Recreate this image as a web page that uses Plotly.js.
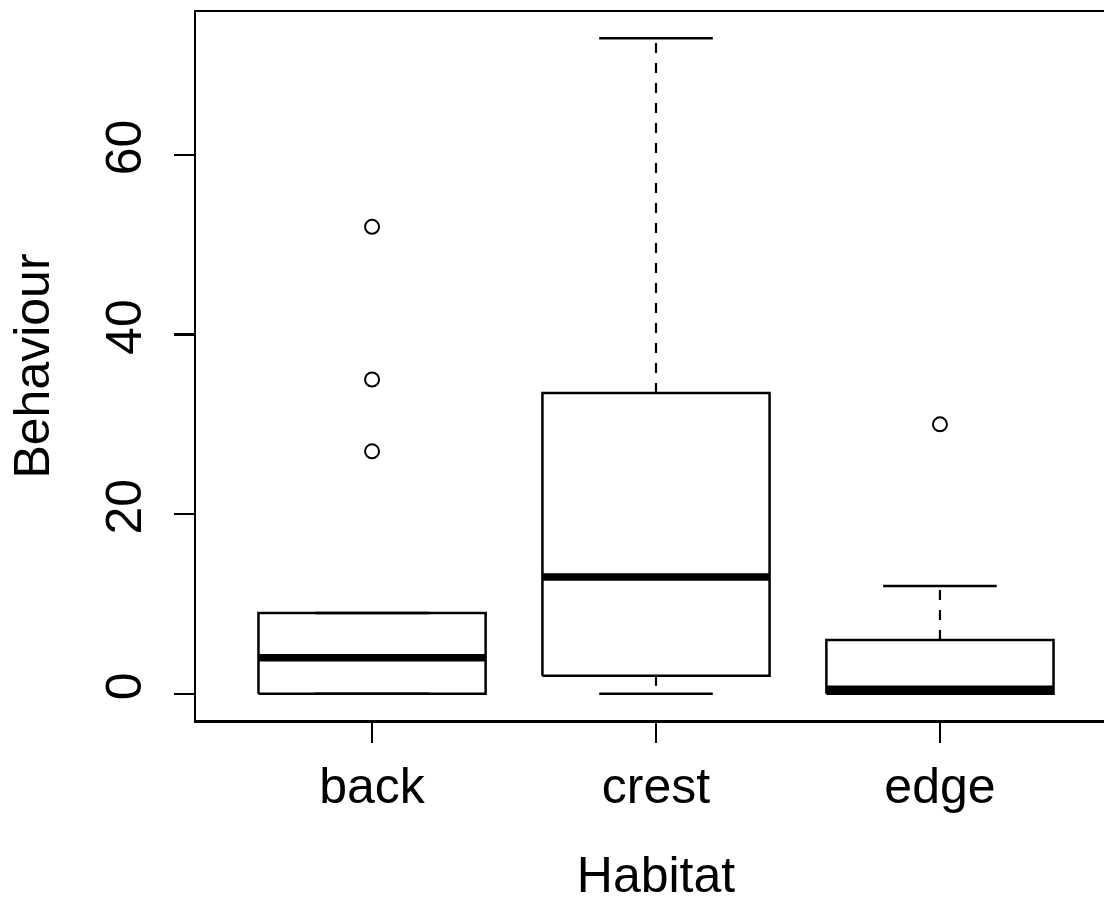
<!DOCTYPE html>
<html>
<head>
<meta charset="utf-8">
<script src="https://cdn.plot.ly/plotly-3.0.1.min.js"></script>
<style>
html,body{margin:0;padding:0;overflow:hidden;background:#fff;}
#chart{width:1120px;height:903px;}
</style>
</head>
<body>
<div id="chart"></div>
<script>
// Data
var categories = ['back', 'crest', 'edge'];
var lowerWhisker = [0, 0, 0];
var q1 = [0, 2, 0];
var median = [4, 13, 0.5];
var q3 = [9, 33.5, 6];
var upperWhisker = [9, 73, 12];
var outlierCategory = ['back', 'back', 'back', 'edge'];
var outlierValue = [52, 35, 27, 30];
var yTickValues = [0, 20, 40, 60];

var boxHalf = 0.4, capHalf = 0.2;
var pos = categories.map(function (c, i) { return i + 1; });

var boxX = [], boxY = [], medX = [], medY = [], whX = [], whY = [], capX = [], capY = [];
categories.forEach(function (c, i) {
  var p = pos[i];
  boxX.push(p - boxHalf, p + boxHalf, p + boxHalf, p - boxHalf, p - boxHalf, null);
  boxY.push(q1[i], q1[i], q3[i], q3[i], q1[i], null);
  medX.push(p - boxHalf, p + boxHalf, null);
  medY.push(median[i], median[i], null);
  if (upperWhisker[i] > q3[i]) { whX.push(p, p, null); whY.push(q3[i], upperWhisker[i], null); }
  if (lowerWhisker[i] < q1[i]) { whX.push(p, p, null); whY.push(q1[i], lowerWhisker[i], null); }
  capX.push(p - capHalf, p + capHalf, null); capY.push(upperWhisker[i], upperWhisker[i], null);
  capX.push(p - capHalf, p + capHalf, null); capY.push(lowerWhisker[i], lowerWhisker[i], null);
});
var outX = outlierCategory.map(function (c) { return categories.indexOf(c) + 1; });

var traces = [
  {x: whX, y: whY, mode: 'lines', line: {color: '#000', width: 2.2, dash: '10px,10px'}, hoverinfo: 'skip'},
  {x: capX, y: capY, mode: 'lines', line: {color: '#000', width: 2.5}, hoverinfo: 'skip'},
  {x: boxX, y: boxY, mode: 'lines', line: {color: '#000', width: 2.5}, hoverinfo: 'skip'},
  {x: medX, y: medY, mode: 'lines', line: {color: '#000', width: 7.5}, hoverinfo: 'skip'},
  {x: outX, y: outlierValue, mode: 'markers', marker: {symbol: 'circle-open', size: 14, color: '#000', line: {width: 2, color: '#000'}}}
];

var font = 'Liberation Sans, Arial, sans-serif';
var fs = 50;
var layout = {
  width: 1120, height: 903,
  margin: {l: 196, r: 4, t: 12, b: 183},
  paper_bgcolor: '#fff', plot_bgcolor: '#fff',
  showlegend: false,
  font: {family: font, color: '#000', size: fs},
  xaxis: {
    range: [0.38, 3.62], tickmode: 'array', tickvals: pos, ticktext: categories,
    showgrid: false, zeroline: false, showline: true, mirror: true,
    linecolor: '#000', linewidth: 2.5, ticks: 'outside', ticklen: 20, tickwidth: 2.5, tickcolor: '#000',
    ticklabelstandoff: 0,
    tickfont: {family: font, size: fs, color: '#000'},
    title: {text: 'Habitat', font: {family: font, size: fs, color: '#000'}, standoff: 56},
    automargin: false
  },
  yaxis: {
    range: [-2.92, 75.92], tickmode: 'array', tickvals: yTickValues,
    showgrid: false, zeroline: false, showline: true, mirror: true,
    linecolor: '#000', linewidth: 2.5, ticks: 'outside', ticklen: 20, tickwidth: 2.5, tickcolor: '#000',
    tickangle: -90, ticklabelstandoff: 13,
    tickfont: {family: font, size: fs, color: '#000'},
    title: {text: 'Behaviour', font: {family: font, size: fs, color: '#000'}, standoff: 30},
    automargin: false
  }
};

Plotly.newPlot('chart', traces, layout, {displayModeBar: false, staticPlot: true});
</script>
</body>
</html>
